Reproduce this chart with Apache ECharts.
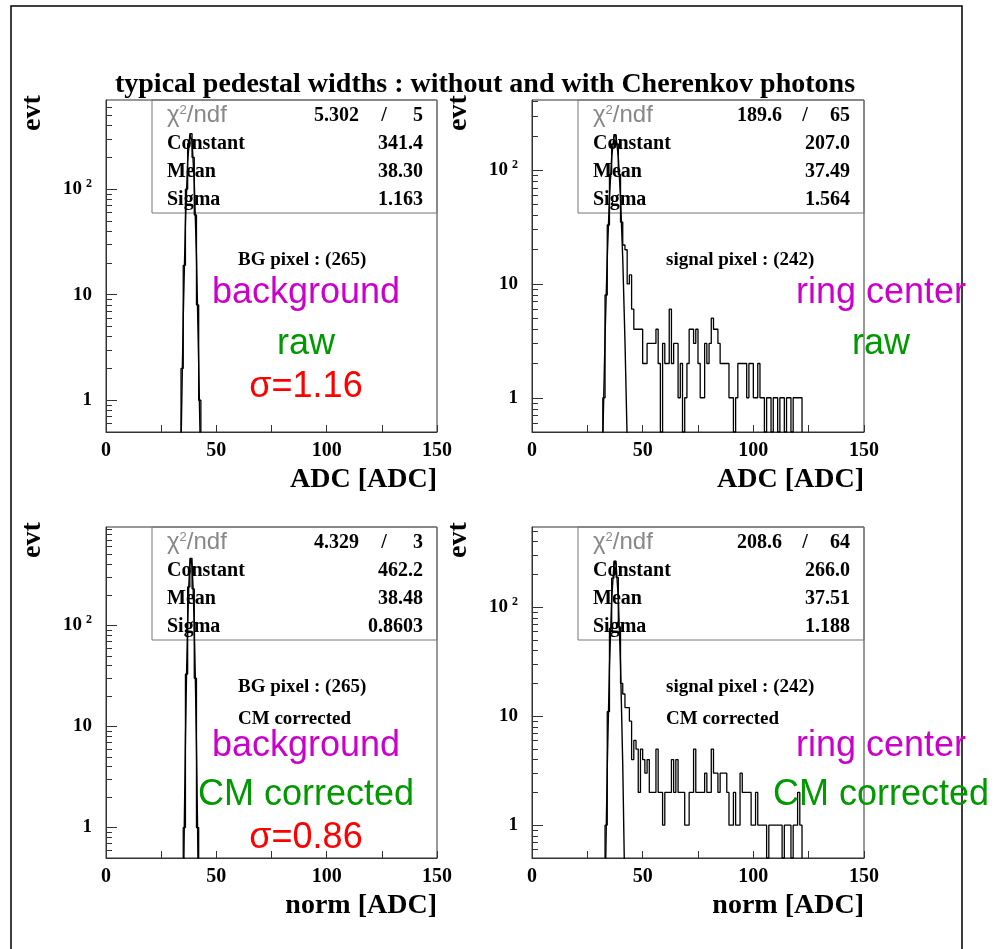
<!DOCTYPE html>
<html>
<head>
<meta charset="utf-8">
<script src="https://cdn.jsdelivr.net/npm/echarts@6/dist/echarts.min.js"></script>
<style>
html, body { margin: 0; padding: 0; background: #fff; }
#chart { width: 994px; height: 949px; }
</style>
</head>
<body>
<div id="chart"></div>
<script>
// axis ticks shared by all four pads
const xTickValues = [0, 25, 50, 75, 100, 125, 150];
const xLabelValues = [0, 50, 100, 150];
const yMajorValues = [1, 10, 100];
const yMinorValues = [0.6, 0.7, 0.8, 0.9, 2, 3, 4, 5, 6, 7, 8, 9,
    20, 30, 40, 50, 60, 70, 80, 90, 200, 300, 400, 500, 600, 700, 800, 900];
const yMin = 0.5;

// pad 1 : BG pixel raw (bins of 1 ADC, first bin edge = start)
const bgRawStart = 34;
const bgRawCounts = [2, 19, 100, 270, 335, 200, 57, 8, 1];
const bgRawFitX = [33.5, 34, 35, 36, 37, 38, 38.3, 39, 40, 41, 42, 42.8];
const bgRawFitY = [0.07, 0.37, 6.1, 48, 183, 330, 341, 285, 117, 23, 2.2, 0.3];

// pad 2 : signal pixel raw
const sigRawStart = 32;
const sigRawCounts = [1, 8, 33, 92, 170, 205, 170, 92, 35, 22, 20, 10, 12, 6, 4, 4, 4, 4, 2, 2,
    3, 3, 3, 3, 4, 2, 0, 3, 2, 2, 6, 2, 3, 3, 1, 2, 0, 1, 2, 4,
    4, 3, 4, 2, 1, 1, 3, 2, 3, 5, 4, 4, 3, 2, 2, 2, 2, 1, 1, 0,
    1, 2, 2, 2, 2, 1, 2, 2, 1, 1, 2, 1, 1, 0, 1, 1, 0, 1, 1, 0,
    1, 1, 0, 1, 1, 0, 1, 1, 1, 1];
const sigRawFitX = [32, 33, 34, 35, 36, 37, 37.5, 38, 39, 40, 41, 42, 43];
const sigRawFitY = [0.44, 3.4, 17, 58, 131, 197, 207, 196, 130, 57, 16.7, 3.2, 0.42];

// pad 3 : BG pixel CM corrected
const bgCmStart = 35;
const bgCmCounts = [1, 33, 240, 460, 230, 30, 1];
const bgCmFitX = [35, 35.5, 36, 36.5, 37, 37.5, 38, 38.5, 39, 39.5, 40, 40.5, 41, 41.5, 42];
const bgCmFitY = [0.13, 1.15, 7.2, 33, 105, 242, 396, 462, 385, 229, 97, 29, 6.3, 1, 0.1];

// pad 4 : signal pixel CM corrected
const sigCmStart = 33;
const sigCmCounts = [1, 11, 64, 185, 265, 188, 66, 20, 16, 12, 12, 9, 4, 6, 5, 2, 5, 4, 3, 4,
    2, 2, 2, 5, 2, 2, 1, 2, 2, 2, 4, 2, 4, 2, 2, 2, 1, 1, 2, 2,
    5, 2, 2, 2, 2, 3, 2, 2, 5, 3, 3, 2, 3, 3, 3, 2, 1, 1, 2, 1,
    1, 3, 2, 2, 2, 2, 1, 1, 2, 1, 1, 1, 1, 0, 1, 1, 1, 1, 1, 1,
    0, 1, 1, 1, 0, 1, 1, 2, 1];
const sigCmFitX = [33, 34, 35, 36, 37, 37.5, 38, 39, 40, 41, 42];
const sigCmFitY = [0.2, 3.4, 28.5, 119, 243, 266, 244, 121, 29.6, 3.6, 0.2];

const SERIF = '"Liberation Serif", "DejaVu Serif", serif';
const SANS = '"Liberation Sans", Arial, sans-serif';
const MAGENTA = '#cc00cc';
const GREEN = '#009900';
const RED = '#ff0000';

const pads = [
    { left: 106, top: 100, width: 331, height: 332, yMax: 700,
      start: bgRawStart, counts: bgRawCounts, fitX: bgRawFitX, fitY: bgRawFitY,
      stats: ['5.302', '5', '341.4', '38.30', '1.163'], v1: 359, slash: 384,
      notes: ['BG pixel : (265)'], big: [['background', MAGENTA], ['raw', GREEN], ['σ=1.16', RED]],
      bigX: 306, xTitle: 'ADC [ADC]' },
    { left: 532, top: 100, width: 332, height: 332, yMax: 414,
      start: sigRawStart, counts: sigRawCounts, fitX: sigRawFitX, fitY: sigRawFitY,
      stats: ['189.6', '65', '207.0', '37.49', '1.564'], v1: 782, slash: 805,
      notes: ['signal pixel : (242)'], big: [['ring center', MAGENTA], ['raw', GREEN]],
      bigX: 881, xTitle: 'ADC [ADC]' },
    { left: 106, top: 527, width: 331, height: 331, yMax: 940,
      start: bgCmStart, counts: bgCmCounts, fitX: bgCmFitX, fitY: bgCmFitY,
      stats: ['4.329', '3', '462.2', '38.48', '0.8603'], v1: 359, slash: 384,
      notes: ['BG pixel : (265)', 'CM corrected'], big: [['background', MAGENTA], ['CM corrected', GREEN], ['σ=0.86', RED]],
      bigX: 306, xTitle: 'norm [ADC]' },
    { left: 532, top: 527, width: 332, height: 331, yMax: 545,
      start: sigCmStart, counts: sigCmCounts, fitX: sigCmFitX, fitY: sigCmFitY,
      stats: ['208.6', '64', '266.0', '37.51', '1.188'], v1: 782, slash: 805,
      notes: ['signal pixel : (242)', 'CM corrected'], big: [['ring center', MAGENTA], ['CM corrected', GREEN]],
      bigX: 881, xTitle: 'norm [ADC]' }
];

function histPoints(start, counts) {
    const pts = [[start, yMin]];
    counts.forEach((c, i) => pts.push([start + i, c > 0 ? c : yMin]));
    pts.push([start + counts.length, yMin]);
    return pts;
}

function serifText(x, y, text, size, align, extra) {
    return Object.assign({
        type: 'text', x: x, y: y, z: 1,
        style: {
            text: text, fill: '#000', fontFamily: SERIF, fontWeight: 'bold', fontSize: size,
            textAlign: align || 'left', textVerticalAlign: 'middle'
        }
    }, extra || {});
}

const grids = [], xAxes = [], yAxes = [], series = [], graphics = [];

pads.forEach((p, i) => {
    grids.push({ left: p.left, top: p.top, width: p.width, height: p.height,
        show: true, borderColor: '#333', borderWidth: 1, backgroundColor: 'transparent' });
    xAxes.push({
        type: 'value', gridIndex: i, min: 0, max: 150, interval: 25,
        axisLine: { lineStyle: { color: '#333', width: 1 } },
        axisTick: { inside: true, length: 7, customValues: xTickValues, lineStyle: { color: '#333' } },
        axisLabel: { customValues: xLabelValues, margin: 9, color: '#000',
            fontFamily: SERIF, fontWeight: 'bold', fontSize: 20 },
        splitLine: { show: false }
    });
    const yBase = { type: 'log', logBase: 10, gridIndex: i, min: yMin, max: p.yMax, position: 'left' };
    yAxes.push(Object.assign({}, yBase, {
        axisLine: { show: true, lineStyle: { color: '#333', width: 1 } },
        axisTick: { inside: true, length: 11, customValues: yMajorValues, lineStyle: { color: '#333' } },
        axisLabel: {
            customValues: yMajorValues, margin: 14, color: '#000',
            fontFamily: SERIF, fontWeight: 'bold', fontSize: 19,
            formatter: v => (v >= 100 ? '10{s|2}' : String(v)),
            rich: { s: { fontFamily: SERIF, fontWeight: 'bold', fontSize: 12, verticalAlign: 'top',
                padding: [0, 0, 10, 4], color: '#000' } }
        },
        splitLine: { show: false }
    }));
    yAxes.push(Object.assign({}, yBase, {
        axisLine: { show: false },
        axisTick: { inside: true, length: 6, customValues: yMinorValues.filter(v => v < p.yMax),
            lineStyle: { color: '#333' } },
        axisLabel: { show: false },
        splitLine: { show: false }
    }));
    series.push({
        type: 'line', xAxisIndex: i, yAxisIndex: 2 * i, step: 'end', symbol: 'none',
        data: histPoints(p.start, p.counts), lineStyle: { color: '#000', width: 1.3 },
        animation: false, z: 3
    });
    series.push({
        type: 'line', xAxisIndex: i, yAxisIndex: 2 * i, symbol: 'none',
        data: p.fitX.map((x, k) => [x, p.fitY[k]]), lineStyle: { color: '#000', width: 1.4 },
        animation: false, z: 4
    });

    // stats box
    const right = p.left + p.width;
    const boxLeft = p.left + 46;
    graphics.push({ type: 'rect', z: 0, shape: { x: boxLeft, y: p.top, width: right - boxLeft, height: 113 },
        style: { fill: 'none', stroke: '#777', lineWidth: 1 } });
    const rowY = [15.5, 43.5, 71.5, 99.5].map(d => p.top + d);
    graphics.push({ type: 'text', x: boxLeft + 15, y: rowY[0], z: 1,
        style: { text: '{c|χ}{s|2}{c|/ndf}', textVerticalAlign: 'middle',
            rich: { c: { fontFamily: SANS, fontSize: 24, fill: '#888', color: '#888' },
                    s: { fontFamily: SANS, fontSize: 13, fill: '#888', color: '#888', verticalAlign: 'top' } } } });
    graphics.push(serifText(p.v1, rowY[0], p.stats[0], 20, 'right'));
    graphics.push(serifText(p.slash, rowY[0], '/', 20, 'center'));
    graphics.push(serifText(right - 14, rowY[0], p.stats[1], 20, 'right'));
    ['Constant', 'Mean', 'Sigma'].forEach((name, k) => {
        graphics.push(serifText(boxLeft + 15, rowY[k + 1], name, 20, 'left'));
        graphics.push(serifText(right - 14, rowY[k + 1], p.stats[k + 2], 20, 'right'));
    });

    // notes inside pad
    const noteX = p.left + (i % 2 === 0 ? 132 : 134);
    p.notes.forEach((t, k) => graphics.push(serifText(noteX, p.top + 160 + 32 * k, t, 19, 'left')));

    // big coloured labels
    const bigY = i < 2 ? [293, 344, 387] : [746, 795, 838];
    p.big.forEach((b, k) => graphics.push({ type: 'text', x: p.bigX, y: bigY[k], z: 1,
        style: { text: b[0], fill: b[1], fontFamily: SANS, fontSize: 36,
            textAlign: 'center', textVerticalAlign: 'middle' } }));

    // axis titles
    graphics.push(serifText(right, p.top + p.height + 48, p.xTitle, 28, 'right'));
    graphics.push(serifText(p.left - 73, p.top + 13, 'evt', 28, 'center', { rotation: Math.PI / 2 }));
});

graphics.push(serifText(485, 85, 'typical pedestal widths : without and with Cherenkov photons', 28, 'center'));
graphics.push({ type: 'polyline', z: 0, shape: { points: [[11, 949], [11, 6], [962, 6], [962, 949]] },
    style: { fill: 'none', stroke: '#000', lineWidth: 1.5 } });

const chart = echarts.init(document.getElementById('chart'));
chart.setOption({
    backgroundColor: '#fff',
    animation: false,
    grid: grids,
    xAxis: xAxes,
    yAxis: yAxes,
    series: series,
    graphic: graphics
});
</script>
</body>
</html>
